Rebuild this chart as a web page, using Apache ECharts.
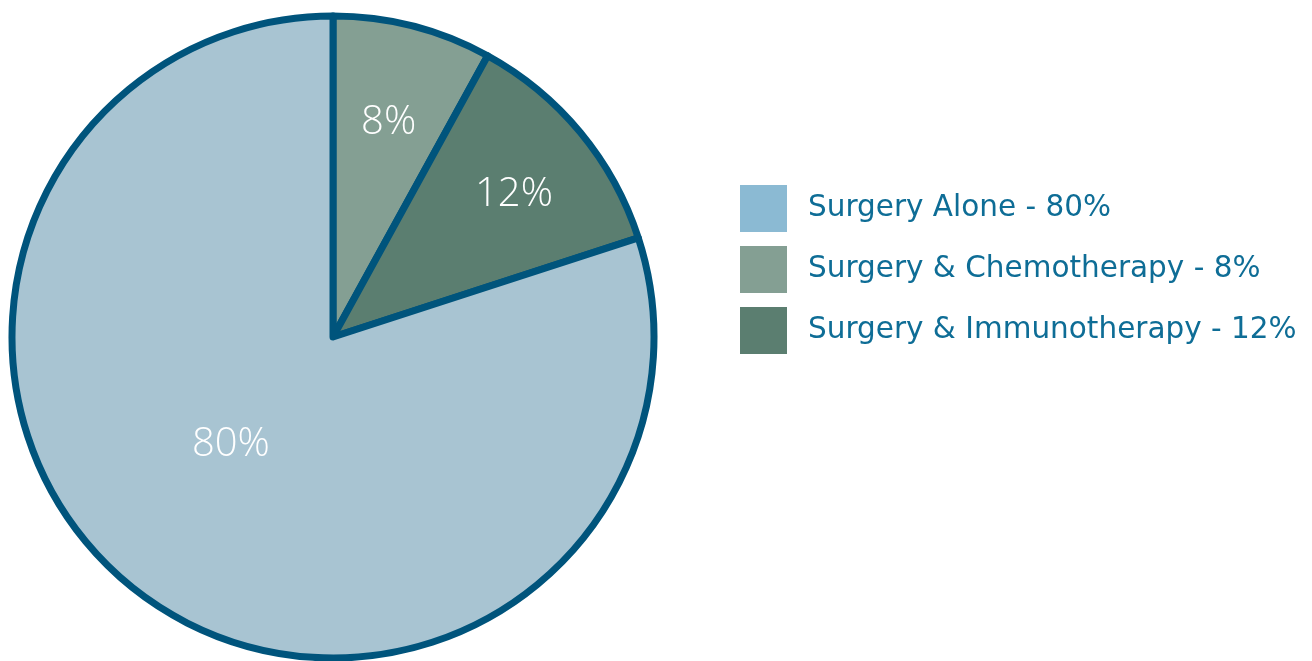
<!DOCTYPE html>
<html>
<head>
<meta charset="utf-8">
<script src="https://cdn.jsdelivr.net/npm/echarts@6/dist/echarts.min.js"></script>
<style>html,body{margin:0;padding:0;background:#fff;}#c{width:1312px;height:661px;}</style>
</head>
<body>
<div id="c"></div>
<script>
// Data (pie order clockwise from 12 o'clock)
const categories = ["Surgery & Chemotherapy", "Surgery & Immunotherapy", "Surgery Alone"];
const values = [8, 12, 80];
const sliceColors = ["#849f93", "#5b7e70", "#a8c4d2"];
// Legend order and swatch colours
const legendOrder = ["Surgery Alone", "Surgery & Chemotherapy", "Surgery & Immunotherapy"];
const legendColors = ["#8bbad3", "#849f93", "#5b7e70"];
const labelOffsets = [[15, -56], [55, -38], [-6, -25]];

const chart = echarts.init(document.getElementById('c'), null, {renderer: 'canvas'});
const valueOf = {};
categories.forEach((c, i) => valueOf[c] = values[i]);

chart.setOption({
  animation: false,
  legend: {
    orient: 'vertical',
    left: 740,
    top: 185,
    padding: 0,
    itemWidth: 47,
    itemHeight: 47,
    itemGap: 14,
    icon: 'rect',
    selectedMode: false,
    data: legendOrder.map((n, i) => ({name: n, itemStyle: {color: legendColors[i], borderWidth: 0}})),
    formatter: n => n + ' - ' + valueOf[n] + '%',
    textStyle: {
      color: '#0e6d96',
      fontSize: 29.5,
      fontFamily: 'DejaVu Sans',
      padding: [0, 0, 0, 16]
    }
  },
  series: [{
    type: 'pie',
    center: [333, 337],
    radius: 321,
    startAngle: 90,
    clockwise: true,
    silent: true,
    itemStyle: {borderColor: '#00547c', borderWidth: 7, borderJoin: 'round'},
    label: {
      show: true,
      position: 'inside',
      color: '#ffffff',
      fontSize: 40,
      fontWeight: 300,
      fontFamily: 'Open Sans',
      formatter: p => p.value + '%'
    },
    labelLine: {show: false},
    data: categories.map((c, i) => ({
      name: c,
      value: values[i],
      itemStyle: {color: sliceColors[i]},
      label: {offset: labelOffsets[i]}
    }))
  }]
});
</script>
</body>
</html>
